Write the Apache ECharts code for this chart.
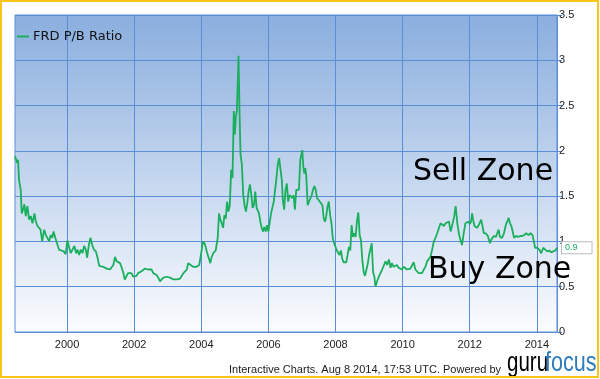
<!DOCTYPE html>
<html><head><meta charset="utf-8">
<script src="https://cdn.jsdelivr.net/npm/echarts@6/dist/echarts.min.js"></script>
<style>html,body{margin:0;padding:0;background:#fff}#c{width:600px;height:379px}</style>
</head><body><div id="c"></div>
<script>
const seriesName = 'FRD P/B Ratio';
const years = [
1998.45,1998.51,1998.54,1998.57,1998.62,1998.65,1998.69,1998.73,1998.77,1998.82,1998.87,1998.92,1998.97,
1999.03,1999.07,1999.12,1999.17,1999.21,1999.26,1999.32,1999.37,1999.41,1999.47,1999.51,1999.56,1999.60,1999.65,1999.70,1999.76,1999.83,1999.90,1999.96,
2000.01,2000.06,2000.11,2000.16,2000.22,2000.27,2000.31,2000.36,2000.41,2000.46,2000.51,2000.56,2000.60,2000.65,2000.70,2000.75,2000.80,2000.86,2000.91,2000.96,
2001.00,2001.08,2001.18,2001.28,2001.38,2001.43,2001.48,2001.58,2001.63,2001.68,2001.72,2001.77,2001.82,2001.87,2001.92,2001.97,
2002.02,2002.07,2002.12,2002.17,2002.22,2002.27,2002.32,2002.37,2002.42,2002.47,2002.52,2002.57,2002.62,2002.67,2002.72,2002.77,2002.82,2002.87,2002.92,2002.97,
2003.02,2003.07,2003.12,2003.17,2003.22,2003.27,2003.32,2003.37,2003.42,2003.47,2003.52,2003.57,2003.61,2003.66,2003.76,2003.86,2003.94,2003.99,
2004.05,2004.11,2004.17,2004.22,2004.27,2004.31,2004.36,2004.43,2004.49,2004.53,2004.57,2004.61,2004.65,2004.69,2004.73,2004.77,2004.81,2004.85,2004.89,2004.93,2004.97,
2005.00,2005.03,2005.06,2005.09,2005.11,2005.14,2005.17,2005.21,2005.25,2005.29,2005.33,2005.37,2005.41,2005.45,2005.49,2005.53,2005.57,2005.61,2005.65,2005.68,2005.72,2005.76,2005.80,2005.84,2005.88,2005.92,2005.96,
2006.00,2006.04,2006.08,2006.12,2006.16,2006.20,2006.24,2006.28,2006.32,2006.35,2006.40,2006.43,2006.47,2006.51,2006.55,2006.59,2006.63,2006.67,2006.71,2006.75,2006.79,2006.83,2006.87,2006.91,2006.95,2006.98,
2007.01,2007.04,2007.07,2007.10,2007.13,2007.17,2007.21,2007.25,2007.29,2007.33,2007.37,2007.41,2007.45,2007.49,2007.53,2007.57,2007.61,2007.65,2007.69,2007.72,2007.76,2007.80,2007.84,2007.88,2007.92,2007.96,
2008.00,2008.04,2008.08,2008.12,2008.16,2008.20,2008.24,2008.28,2008.32,2008.36,2008.40,2008.44,2008.48,2008.52,2008.56,2008.60,2008.64,2008.68,2008.72,2008.76,2008.80,2008.84,2008.88,2008.92,2008.96,
2009.00,2009.04,2009.08,2009.12,2009.16,2009.19,2009.24,2009.29,2009.34,2009.39,2009.44,2009.49,2009.54,2009.59,2009.64,2009.68,2009.73,2009.78,2009.83,2009.88,2009.93,2009.98,
2010.03,2010.08,2010.13,2010.18,2010.23,2010.28,2010.33,2010.38,2010.43,2010.48,2010.53,2010.58,2010.63,2010.68,2010.73,2010.78,2010.83,2010.88,2010.93,2010.98,
2011.03,2011.08,2011.13,2011.18,2011.23,2011.28,2011.33,2011.38,2011.43,2011.48,2011.53,2011.58,2011.63,2011.68,2011.72,2011.77,2011.82,2011.87,2011.92,2011.97,
2012.00,2012.04,2012.07,2012.10,2012.14,2012.18,2012.22,2012.28,2012.34,2012.38,2012.42,2012.48,2012.54,2012.60,2012.64,2012.68,2012.72,2012.78,2012.82,2012.86,2012.90,2012.96,
2013.02,2013.08,2013.12,2013.16,2013.20,2013.24,2013.28,2013.32,2013.38,2013.44,2013.50,2013.56,2013.62,2013.68,2013.71,2013.75,2013.81,2013.87,2013.91,2013.95,
2014.01,2014.07,2014.13,2014.19,2014.25,2014.31,2014.37,2014.43,2014.49,2014.55,2014.60
];
const pbRatio = [
1.94,1.87,1.90,1.68,1.57,1.31,1.35,1.41,1.28,1.39,1.24,1.28,1.20,
1.31,1.22,1.17,1.17,1.13,1.00,1.13,1.07,1.09,1.00,1.07,1.04,1.11,1.04,1.02,0.91,0.90,0.89,0.86,
1.01,1.01,0.87,0.89,0.95,0.87,0.91,0.85,0.91,0.87,0.95,0.91,0.82,0.96,1.04,0.96,0.91,0.89,0.82,0.73,
0.72,0.72,0.70,0.69,0.74,0.83,0.78,0.76,0.71,0.65,0.58,0.57,0.65,0.63,0.65,0.61,
0.63,0.62,0.65,0.63,0.67,0.69,0.70,0.72,0.69,0.67,0.69,0.65,0.67,0.63,0.60,0.56,0.58,0.60,0.59,0.61,
0.62,0.60,0.59,0.58,0.60,0.58,0.57,0.59,0.61,0.65,0.63,0.69,0.76,0.74,0.72,0.72,0.74,0.85,
1.00,0.97,0.88,0.86,0.76,0.83,0.87,0.90,1.04,1.31,1.24,1.20,1.15,1.29,1.25,1.44,1.33,1.40,1.79,1.70,2.44,
2.18,2.38,2.44,2.77,3.05,2.44,1.96,1.85,1.52,1.40,1.33,1.42,1.55,1.63,1.52,1.37,1.40,1.55,1.37,1.39,1.31,1.22,1.15,1.11,1.16,1.11,1.18,
1.11,1.12,1.31,1.33,1.44,1.42,1.70,1.85,1.92,1.94,1.68,1.46,1.35,1.57,1.64,1.44,1.51,1.53,1.48,1.51,1.35,1.57,1.59,1.57,1.90,1.92,
2.01,1.83,1.75,1.81,1.72,1.40,1.44,1.46,1.51,1.57,1.61,1.57,1.48,1.50,1.44,1.46,1.40,1.25,1.22,1.27,1.38,1.44,1.29,1.20,1.03,0.98,
0.96,0.90,0.92,0.85,0.90,0.81,0.77,0.76,0.77,0.85,0.94,0.90,1.18,1.05,1.09,1.05,1.23,1.32,1.07,1.01,0.79,0.66,0.62,0.61,0.75,
0.85,0.86,0.98,0.66,0.61,0.50,0.56,0.61,0.65,0.69,0.68,0.78,0.74,0.80,0.71,0.76,0.72,0.73,0.74,0.71,0.72,0.69,
0.72,0.70,0.69,0.71,0.70,0.72,0.77,0.69,0.67,0.65,0.63,0.65,0.69,0.72,0.78,0.79,0.83,0.91,1.00,1.04,
1.09,1.11,1.20,1.22,1.17,1.20,1.18,1.22,1.11,1.13,1.26,1.39,1.20,1.08,1.02,0.96,1.09,1.20,1.19,1.22,
1.19,1.22,1.31,1.24,1.17,1.17,1.15,1.19,1.24,1.17,1.09,1.09,1.06,0.98,1.02,1.04,1.06,1.05,1.09,1.13,1.05,1.04,
1.09,1.19,1.22,1.26,1.20,1.17,1.11,1.04,1.06,1.05,1.06,1.06,1.07,1.09,1.11,1.07,1.09,1.07,1.09,0.93,
0.93,0.91,0.87,0.93,0.91,0.89,0.90,0.88,0.89,0.90,0.93
];
const xTickYears = [2000, 2002, 2004, 2006, 2008, 2010, 2012, 2014];
const yMin = 0, yMax = 3.5, yStep = 0.5;
const xMin = 1998.45, xMax = 2014.6;
const zoneLabels = ['Sell Zone', 'Buy Zone'];
const creditText = 'Interactive Charts. Aug 8 2014, 17:53 UTC. Powered by';

const gridColor = '#5b8ed8';
const lineColor = '#1aaf5c';
const chart = echarts.init(document.getElementById('c'), null, {renderer: 'canvas'});
const data = years.map((t, i) => [t, pbRatio[i]]);

chart.setOption({
  animation: false,
  grid: {
    left: 15, top: 15, right: 43, bottom: 47, show: true,
    borderColor: gridColor, borderWidth: 1,
    backgroundColor: new echarts.graphic.LinearGradient(0, 0, 0, 1, [
      {offset: 0, color: '#8aaede'}, {offset: 1, color: '#fbfcfe'}
    ])
  },
  legend: {
    show: true, left: 17, top: 30, padding: 0,
    icon: 'rect', itemWidth: 12, itemHeight: 2, itemGap: 5,
    textStyle: {fontFamily: 'DejaVu Sans', fontSize: 13, color: '#111', padding: [0, 0, 0, -1]},
    data: [seriesName]
  },
  xAxis: {
    type: 'value', min: xMin, max: xMax,
    axisLine: {show: true, lineStyle: {color: gridColor}},
    axisTick: {show: false, customValues: xTickYears},
    axisLabel: {customValues: xTickYears, color: '#222', fontSize: 11, fontFamily: 'Liberation Sans', margin: 7, formatter: v => String(v)},
    splitLine: {show: true, lineStyle: {color: gridColor, width: 1}}
  },
  yAxis: {
    type: 'value', position: 'right', min: yMin, max: yMax, interval: yStep,
    axisLine: {show: true, lineStyle: {color: gridColor}},
    axisTick: {show: true, length: 5, lineStyle: {color: gridColor}},
    axisLabel: {color: '#222', fontSize: 11, fontFamily: 'Liberation Sans', margin: 2},
    splitLine: {show: true, lineStyle: {color: gridColor, width: 1}}
  },
  series: [{
    type: 'line', name: seriesName, data: data, showSymbol: false, symbol: 'none',
    lineStyle: {color: lineColor, width: 1.8}, itemStyle: {color: lineColor},
    z: 2,
    endLabel: {
      show: true, distance: 5,
      formatter: p => p.value[1].toFixed(1),
      color: '#1aaf5c', fontSize: 9, fontFamily: 'Liberation Sans',
      backgroundColor: '#fff', borderColor: '#bbbbbb', borderWidth: 1,
      padding: [1, 14, 1, 3]
    }
  }],
  graphic: [
    {type: 'rect', shape: {x: 1, y: 1, width: 597, height: 376}, style: {fill: 'none', stroke: '#fcc31b', lineWidth: 2}, silent: true, z: 100},
    {type: 'text', x: 413, y: 172, z: 50, style: {text: zoneLabels[0], fontFamily: 'DejaVu Sans', fontSize: 30, fill: '#000', verticalAlign: 'middle'}},
    {type: 'text', x: 428, y: 270, z: 50, style: {text: zoneLabels[1], fontFamily: 'DejaVu Sans', fontSize: 30, fill: '#000', verticalAlign: 'middle'}},
    {type: 'text', x: 229, y: 370, style: {text: creditText, fontFamily: 'Liberation Sans', fontSize: 11, fill: '#222', verticalAlign: 'middle'}},
    {type: 'text', x: 507, y: 364, scaleX: 0.76, style: {text: 'guru', fontFamily: 'Liberation Sans', fontSize: 27, fill: new echarts.graphic.LinearGradient(0,0,0,1,[{offset:0,color:'#ffd23c'},{offset:1,color:'#eda000'}]), verticalAlign: 'middle'}},
    {type: 'text', x: 545, y: 364, scaleX: 0.8, style: {text: 'focus', fontFamily: 'Liberation Sans', fontSize: 27, fill: '#2d7cc0', verticalAlign: 'middle'}}
  ]
});
</script></body></html>
